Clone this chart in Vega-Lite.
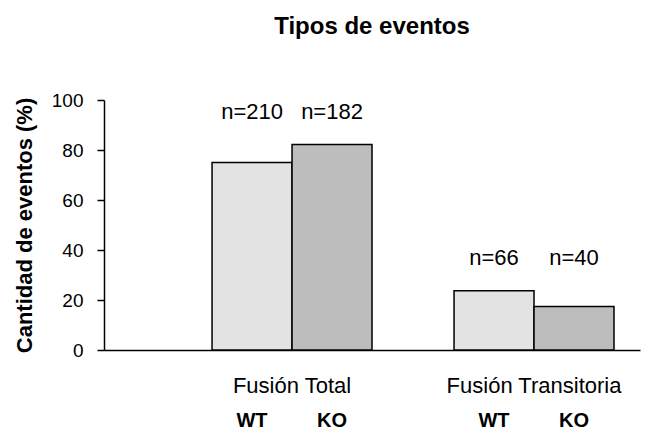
{
  "$schema": "https://vega.github.io/schema/vega-lite/v6.json",
  "width": 536,
  "height": 250,
  "autosize": {"type": "none"},
  "padding": {"left": 104, "top": 100, "right": 27, "bottom": 85},
  "background": "white",
  "config": {
    "view": {"stroke": null},
    "font": "Liberation Sans",
    "axis": {"grid": false, "domainColor": "black", "domainWidth": 1.5, "tickColor": "black", "tickWidth": 1.5, "labelColor": "black", "titleColor": "black", "labelFont": "Liberation Sans", "titleFont": "Liberation Sans"}
  },
  "title": {"text": "Tipos de eventos", "fontSize": 24, "fontWeight": "bold", "font": "Liberation Sans", "color": "black", "offset": 52, "anchor": "middle"},
  "data": {
    "values": [
      {"cat": "Fusión Total", "geno": "WT", "value": 75.0, "n": "n=210"},
      {"cat": "Fusión Total", "geno": "KO", "value": 82.2, "n": "n=182"},
      {"cat": "Fusión Transitoria", "geno": "WT", "value": 23.7, "n": "n=66"},
      {"cat": "Fusión Transitoria", "geno": "KO", "value": 17.4, "n": "n=40"}
    ]
  },
  "encoding": {
    "x": {
      "field": "cat", "type": "nominal", "sort": null,
      "scale": {"paddingInner": 0.339, "paddingOuter": 0.277, "align": 0.806},
      "axis": {"title": null, "labelAngle": 0, "ticks": false, "tickSize": 0, "labelFontSize": 22, "labelPadding": 25}
    },
    "xOffset": {"field": "geno", "type": "nominal", "sort": ["WT", "KO"], "scale": {"paddingInner": 0, "paddingOuter": 0}}
  },
  "layer": [
    {
      "mark": {"type": "bar", "stroke": "black", "strokeWidth": 1.5},
      "encoding": {
        "y": {
          "field": "value", "type": "quantitative",
          "scale": {"domain": [0, 100]},
          "axis": {"title": "Cantidad de eventos (%)", "titleFontSize": 22, "titleFontWeight": "bold", "titlePadding": 15, "values": [0, 20, 40, 60, 80, 100], "tickSize": 7, "labelFontSize": 19, "labelPadding": 14}
        },
        "color": {"field": "geno", "type": "nominal", "scale": {"domain": ["WT", "KO"], "range": ["#e3e3e3", "#bdbdbd"]}, "legend": null}
      }
    },
    {
      "transform": [{"joinaggregate": [{"op": "max", "field": "value", "as": "maxv"}], "groupby": ["cat"]}],
      "mark": {"type": "text", "fontSize": 22, "dy": -33, "color": "black", "baseline": "middle"},
      "encoding": {
        "y": {"field": "maxv", "type": "quantitative"},
        "text": {"field": "n"}
      }
    },
    {
      "mark": {"type": "text", "fontSize": 20, "fontWeight": "bold", "dy": 71, "color": "black", "baseline": "middle"},
      "encoding": {
        "y": {"datum": 0},
        "text": {"field": "geno"}
      }
    }
  ]
}
